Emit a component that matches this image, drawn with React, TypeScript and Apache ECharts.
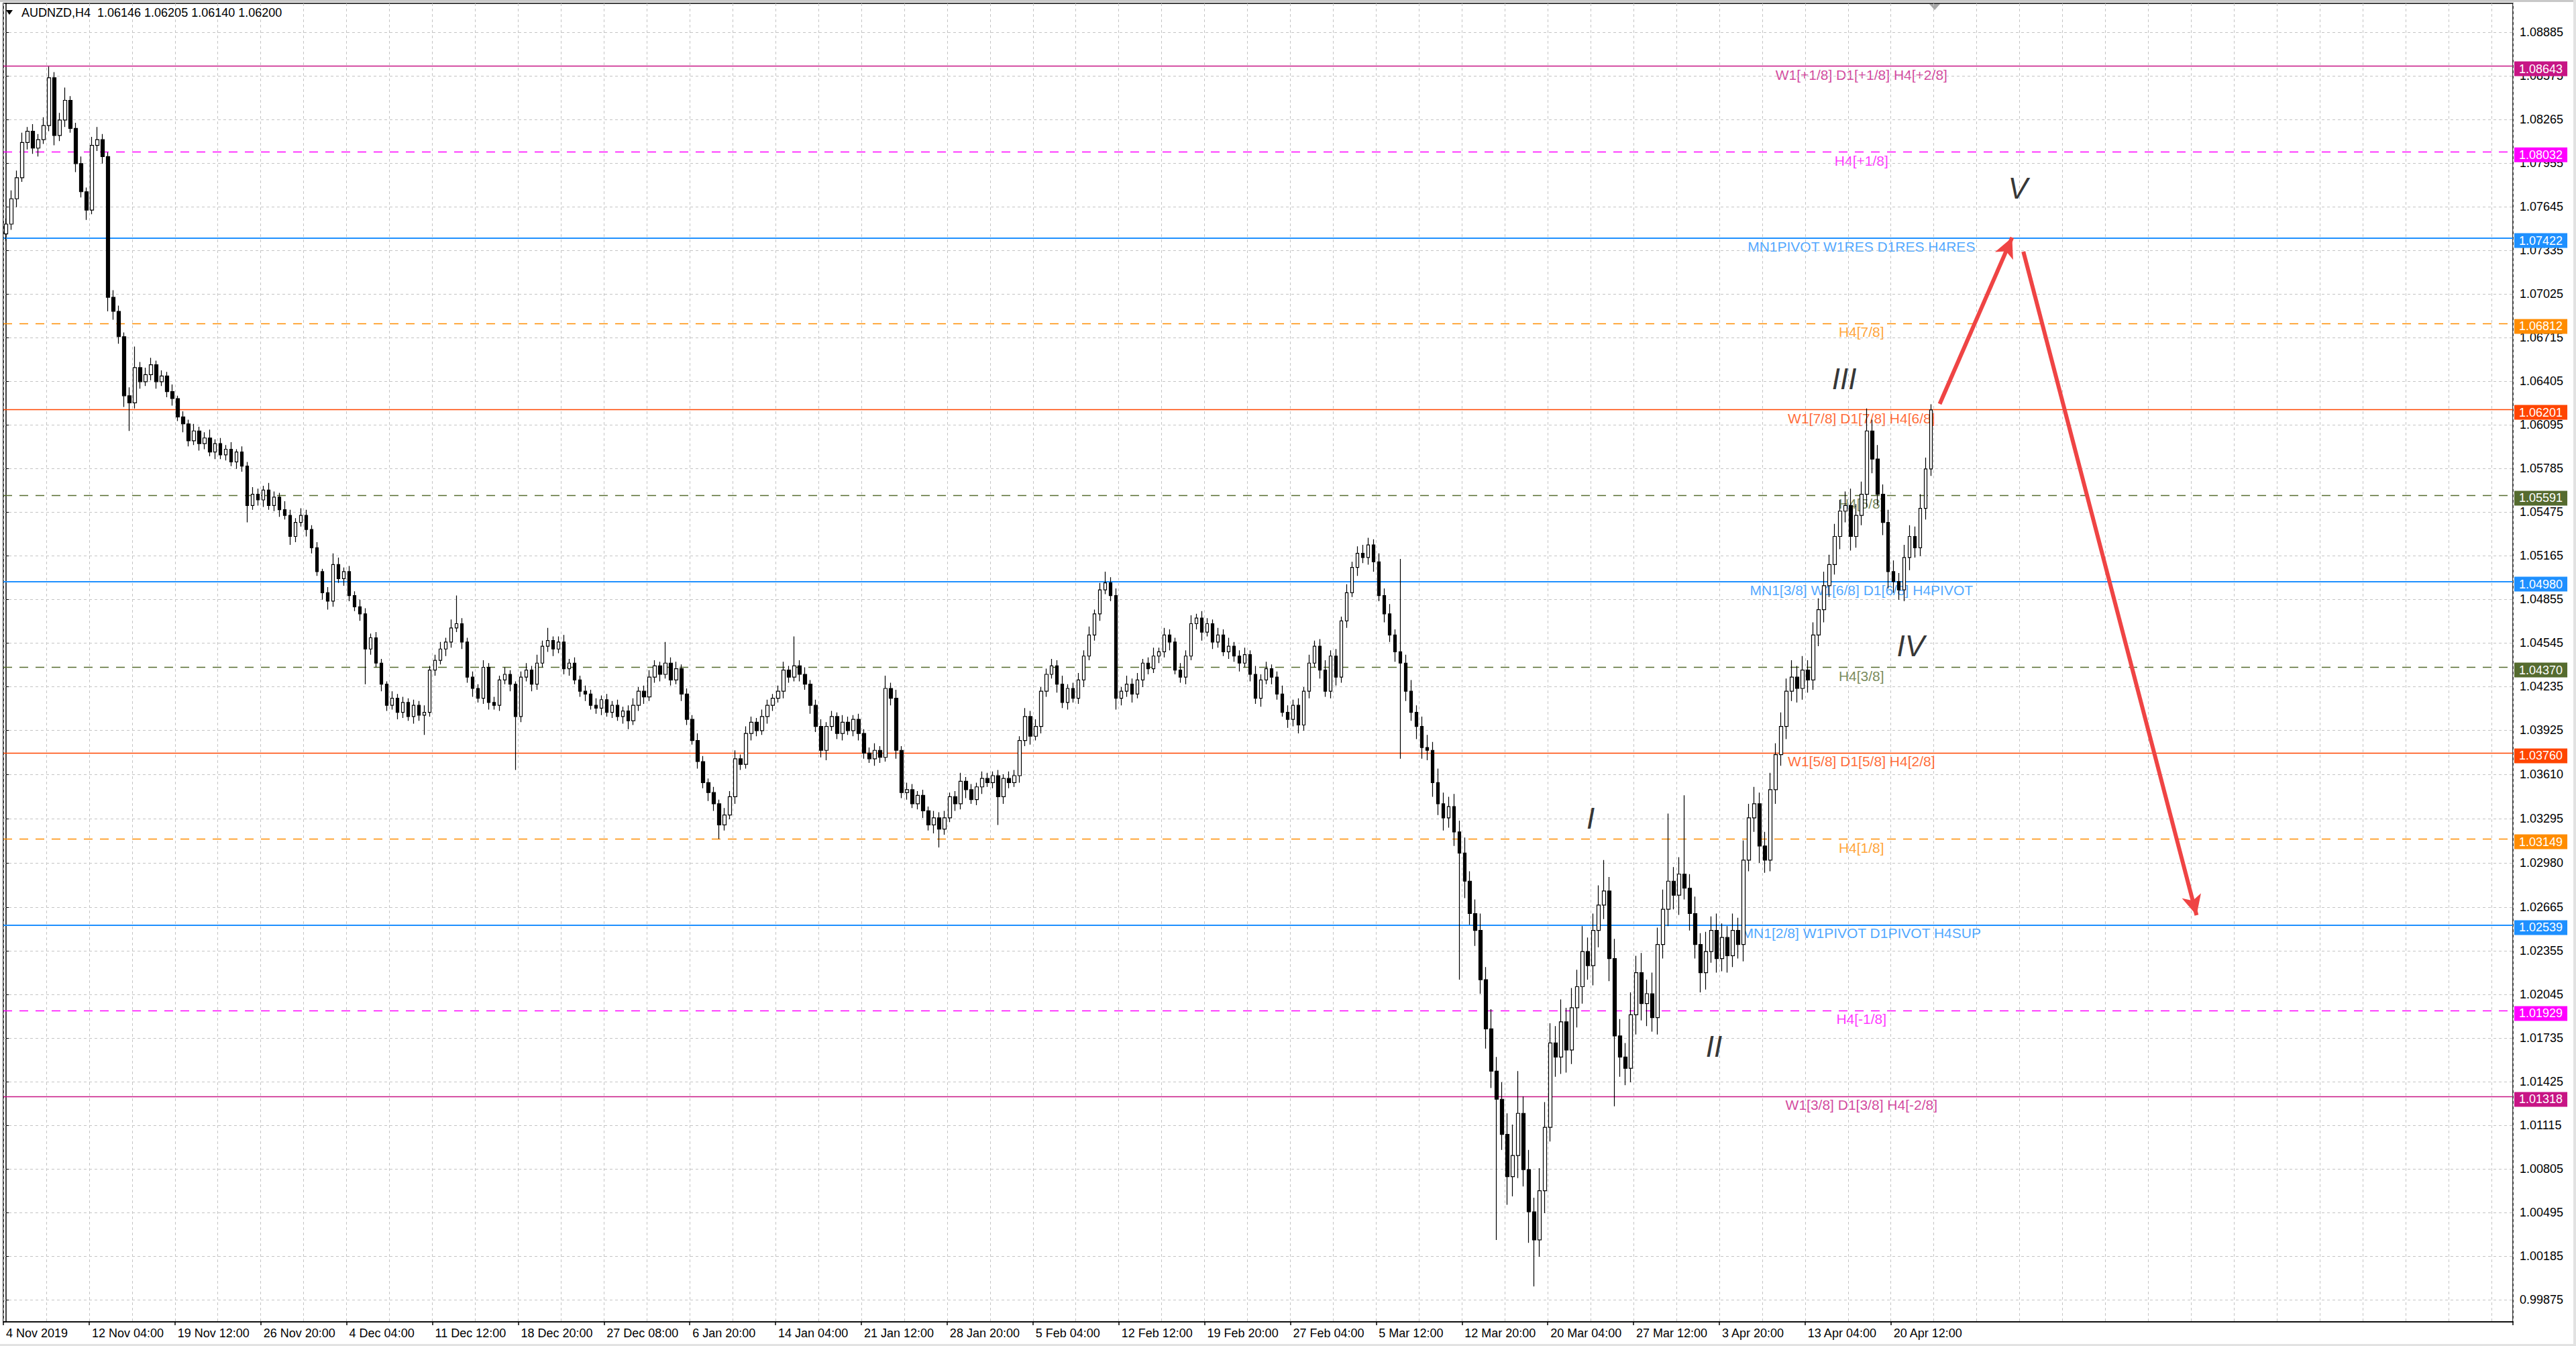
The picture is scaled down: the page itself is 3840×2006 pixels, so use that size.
// App.tsx
import React, { useEffect, useRef } from 'react';
import * as echarts from 'echarts';

// x axis labels, one every 16 candles
const dateLabels = [
  '4 Nov 2019', '12 Nov 04:00', '19 Nov 12:00', '26 Nov 20:00', '4 Dec 04:00', '11 Dec 12:00',
  '18 Dec 20:00', '27 Dec 08:00', '6 Jan 20:00', '14 Jan 04:00', '21 Jan 12:00', '28 Jan 20:00',
  '5 Feb 04:00', '12 Feb 12:00', '19 Feb 20:00', '27 Feb 04:00', '5 Mar 12:00', '12 Mar 20:00',
  '20 Mar 04:00', '27 Mar 12:00', '3 Apr 20:00', '13 Apr 04:00', '20 Apr 12:00',
];

// price ticks as printed on the right scale
const priceTicks = [
  1.08885, 1.08575, 1.08265, 1.07955, 1.07645, 1.07335, 1.07025, 1.06715, 1.06405, 1.06095,
  1.05785, 1.05475, 1.05165, 1.04855, 1.04545, 1.04235, 1.03925, 1.0361, 1.03295, 1.0298,
  1.02665, 1.02355, 1.02045, 1.01735, 1.01425, 1.01115, 1.00805, 1.00495, 1.00185, 0.99875,
];

const firstOpen = 1.0745;

const closes = [
  1.0752, 1.0770, 1.0785, 1.0810, 1.0818, 1.0806, 1.0812, 1.0822, 1.0856, 1.0815,
  1.0826, 1.0840, 1.0820, 1.0795, 1.0775, 1.0762, 1.0808, 1.0812, 1.0800, 1.0700,
  1.0690, 1.0672, 1.0630, 1.0625, 1.0650, 1.0640, 1.0645, 1.0652, 1.0640, 1.0644,
  1.0633, 1.0628, 1.0615, 1.0610, 1.0598, 1.0605, 1.0596, 1.0600, 1.0590, 1.0596,
  1.0588, 1.0592, 1.0583, 1.0590, 1.0580, 1.0552, 1.0560, 1.0556, 1.0563, 1.0552,
  1.0558, 1.0549, 1.0545, 1.0530, 1.0540, 1.0545, 1.0535, 1.0522, 1.0505, 1.0490,
  1.0484, 1.0510, 1.0500, 1.0505, 1.0488, 1.0480, 1.0475, 1.0450, 1.0458, 1.0440,
  1.0425, 1.0410, 1.0415, 1.0405, 1.0412, 1.0402, 1.0410, 1.0403, 1.0405, 1.0435,
  1.0442, 1.0450, 1.0455, 1.0465, 1.0468, 1.0455, 1.0430, 1.0422, 1.0415, 1.0437,
  1.0412, 1.0410, 1.0428, 1.0432, 1.0425, 1.0402, 1.0430, 1.0435, 1.0425, 1.0440,
  1.0452, 1.0456, 1.0450, 1.0455, 1.0436, 1.0440, 1.0428, 1.0420, 1.0418, 1.0410,
  1.0408, 1.0414, 1.0405, 1.0410, 1.0402, 1.0406, 1.0399, 1.0410, 1.0420, 1.0416,
  1.0430, 1.0438, 1.0432, 1.0440, 1.0428, 1.0436, 1.0418, 1.0400, 1.0385, 1.0370,
  1.0355, 1.0348, 1.0340, 1.0325, 1.0332, 1.0345, 1.0372, 1.0368, 1.0390, 1.0398,
  1.0392, 1.0402, 1.0410, 1.0415, 1.0420, 1.0435, 1.0430, 1.0438, 1.0432, 1.0425,
  1.0410, 1.0395, 1.0378, 1.0395, 1.0402, 1.0390, 1.0398, 1.0392, 1.0400, 1.0390,
  1.0376, 1.0372, 1.0378, 1.0373, 1.0422, 1.0415, 1.0378, 1.0348, 1.0350, 1.0340,
  1.0346, 1.0335, 1.0325, 1.0330, 1.0322, 1.0330, 1.0345, 1.0340, 1.0356, 1.0350,
  1.0343, 1.0352, 1.0358, 1.0355, 1.0360, 1.0345, 1.0358, 1.0355, 1.0360, 1.0385,
  1.0402, 1.0388, 1.0395, 1.0420, 1.0432, 1.0438, 1.0425, 1.0412, 1.0422, 1.0415,
  1.0428, 1.0445, 1.0460, 1.0475, 1.0492, 1.0497, 1.0488, 1.0415, 1.0420, 1.0425,
  1.0418, 1.0428, 1.0440, 1.0436, 1.0445, 1.0448, 1.0460, 1.0455, 1.0435, 1.0430,
  1.0445, 1.0468, 1.0472, 1.0462, 1.0468, 1.0455, 1.0460, 1.0448, 1.0452, 1.0445,
  1.0440, 1.0446, 1.0432, 1.0415, 1.0428, 1.0436, 1.0430, 1.0418, 1.0405, 1.0400,
  1.0410, 1.0396, 1.0420, 1.0440, 1.0452, 1.0435, 1.0420, 1.0445, 1.0430, 1.0470,
  1.0490, 1.0508, 1.0518, 1.0515, 1.0524, 1.0512, 1.0488, 1.0475, 1.0460, 1.0448,
  1.0440, 1.0420, 1.0405, 1.0395, 1.0380, 1.0378, 1.0355, 1.0340, 1.0330, 1.0338,
  1.0320, 1.0305, 1.0285, 1.0262, 1.0250, 1.0215, 1.0180, 1.0150, 1.0130, 1.0105,
  1.0075, 1.0090, 1.0120, 1.0080, 1.0050, 1.0030, 1.0065, 1.0110, 1.0170, 1.0160,
  1.0185, 1.0165, 1.0195, 1.0210, 1.0235, 1.0225, 1.0250, 1.0268, 1.0278, 1.0230,
  1.0175, 1.0160, 1.0152, 1.0190, 1.0220, 1.0198, 1.0205, 1.0188, 1.0240, 1.0265,
  1.0285, 1.0275, 1.0290, 1.0280, 1.0262, 1.0240, 1.0220, 1.0235, 1.0250, 1.0230,
  1.0245, 1.0232, 1.0250, 1.0240, 1.0300, 1.0330, 1.0340, 1.0310, 1.0300, 1.0350,
  1.0375, 1.0395, 1.0420, 1.0430, 1.0422, 1.0435, 1.0428, 1.0460, 1.0478, 1.0495,
  1.0510, 1.0530, 1.0548, 1.0552, 1.0530, 1.0545, 1.0560, 1.0605, 1.0585, 1.0560,
  1.0540, 1.0505, 1.0498, 1.0492, 1.0515, 1.0530, 1.0522, 1.0550, 1.0578, 1.0620,
];

// wick lengths above / below the body, in pips
const upWicks = [
  4, 6, 5, 7, 3, 5, 4, 6, 8, 4, 5, 9, 3, 4, 5, 3, 6, 9, 4, 3,
  5, 4, 3, 6, 15, 4, 5, 5, 3, 4, 3, 5, 2, 4, 3, 5, 3, 4, 6, 3,
  4, 3, 5, 2, 4, 3, 5, 4, 3, 5, 4, 3, 6, 4, 3, 5, 4, 3, 4, 2,
  4, 8, 5, 3, 4, 3, 5, 4, 3, 4, 3, 2, 5, 3, 4, 3, 4, 3, 5, 3,
  4, 5, 3, 6, 20, 4, 3, 4, 3, 5, 3, 4, 3, 5, 3, 2, 4, 5, 3, 6,
  4, 9, 3, 4, 5, 3, 4, 3, 4, 3, 5, 3, 4, 3, 4, 3, 4, 5, 3, 4,
  5, 4, 3, 15, 4, 5, 3, 4, 3, 5, 4, 3, 4, 3, 5, 4, 6, 3, 5, 4,
  3, 5, 4, 3, 4, 6, 3, 21, 4, 5, 3, 4, 5, 3, 4, 3, 5, 4, 3, 4,
  3, 4, 5, 3, 9, 4, 6, 3, 5, 4, 3, 4, 3, 5, 4, 5, 3, 4, 6, 3,
  4, 3, 5, 4, 3, 4, 3, 5, 4, 3, 6, 4, 5, 3, 4, 5, 4, 6, 3, 4,
  5, 4, 6, 3, 5, 8, 4, 5, 3, 6, 4, 5, 3, 4, 6, 3, 5, 4, 3, 5,
  4, 6, 3, 5, 4, 3, 5, 4, 6, 3, 4, 5, 3, 6, 4, 5, 3, 4, 6, 5,
  4, 5, 3, 6, 4, 5, 7, 4, 5, 3, 6, 4, 5, 6, 5, 4, 6, 5, 7, 4,
  66, 6, 8, 5, 7, 9, 6, 10, 8, 7, 9, 8, 11, 7, 10, 12, 9, 14, 10, 12,
  15, 22, 30, 12, 14, 10, 16, 18, 14, 12, 16, 10, 14, 12, 18, 10, 12, 14, 22, 10,
  14, 12, 10, 16, 12, 14, 10, 15, 12, 14, 48, 10, 12, 56, 10, 12, 8, 14, 10, 12,
  10, 8, 12, 9, 14, 10, 12, 8, 10, 12, 8, 10, 9, 12, 8, 10, 7, 9, 8, 10,
  7, 9, 8, 10, 12, 8, 9, 16, 8, 10, 7, 9, 8, 6, 9, 8, 7, 10, 8, 4,
];

const downWicks = [
  5, 4, 6, 3, 5, 4, 6, 3, 4, 7, 4, 5, 3, 6, 4, 7, 3, 4, 5, 10,
  6, 5, 8, 20, 4, 5, 3, 4, 5, 3, 4, 5, 3, 6, 4, 3, 5, 4, 3, 5,
  3, 4, 3, 5, 4, 12, 3, 4, 5, 3, 4, 5, 3, 6, 4, 3, 5, 4, 3, 5,
  6, 4, 3, 5, 4, 3, 5, 25, 4, 3, 5, 4, 3, 5, 4, 3, 5, 4, 14, 3,
  4, 3, 5, 4, 3, 5, 4, 6, 3, 4, 5, 3, 4, 3, 5, 38, 4, 3, 5, 4,
  3, 4, 5, 3, 4, 5, 3, 4, 5, 3, 4, 5, 3, 4, 3, 5, 6, 3, 4, 5,
  3, 4, 5, 3, 4, 3, 5, 4, 3, 5, 4, 6, 5, 10, 4, 3, 5, 4, 3, 5,
  4, 3, 5, 4, 3, 5, 4, 3, 5, 4, 6, 4, 5, 7, 3, 4, 5, 3, 4, 5,
  4, 3, 5, 4, 3, 5, 6, 4, 5, 3, 4, 5, 4, 6, 13, 4, 3, 5, 4, 6,
  3, 4, 5, 3, 4, 20, 5, 4, 3, 5, 4, 6, 3, 5, 4, 3, 6, 4, 5, 3,
  4, 5, 3, 4, 5, 3, 4, 8, 5, 4, 6, 3, 5, 4, 3, 5, 4, 6, 3, 4,
  5, 3, 4, 6, 3, 5, 4, 3, 5, 4, 6, 3, 5, 4, 6, 3, 5, 4, 3, 6,
  5, 6, 4, 5, 3, 6, 4, 5, 6, 4, 5, 3, 6, 4, 5, 7, 4, 6, 5, 7,
  68, 7, 6, 9, 8, 7, 10, 8, 9, 7, 10, 90, 12, 8, 11, 10, 14, 12, 100, 11,
  20, 14, 16, 12, 22, 33, 12, 16, 10, 14, 12, 16, 10, 14, 12, 10, 14, 12, 10, 16,
  50, 14, 12, 10, 14, 12, 16, 10, 12, 10, 12, 10, 14, 8, 12, 10, 14, 12, 8, 10,
  9, 12, 8, 10, 12, 8, 10, 12, 9, 8, 10, 8, 9, 7, 10, 8, 9, 7, 8, 9,
  8, 7, 9, 8, 10, 8, 7, 9, 10, 8, 9, 12, 8, 7, 8, 9, 7, 6, 8, 5,
];

// Murrey / pivot levels
const levelPrices = [
  1.08643, 1.08032, 1.07422, 1.06812, 1.06201, 1.05591, 1.0498,
  1.0437, 1.0376, 1.03149, 1.02539, 1.01929, 1.01318,
];
const levelNames = [
  'W1[+1/8] D1[+1/8] H4[+2/8]', 'H4[+1/8]', 'MN1PIVOT W1RES D1RES H4RES', 'H4[7/8]',
  'W1[7/8] D1[7/8] H4[6/8]', 'H4[5/8]', 'MN1[3/8] W1[6/8] D1[6/8] H4PIVOT', 'H4[3/8]',
  'W1[5/8] D1[5/8] H4[2/8]', 'H4[1/8]', 'MN1[2/8] W1PIVOT D1PIVOT H4SUP', 'H4[-1/8]',
  'W1[3/8] D1[3/8] H4[-2/8]',
];
const levelColors = [
  '#C71585', '#FF00FF', '#1E90FF', '#FF8C00', '#FF4500', '#556B2F', '#1E90FF',
  '#556B2F', '#FF4500', '#FF8C00', '#1E90FF', '#FF00FF', '#C71585',
];
const levelDashed = [false, true, false, true, false, true, false, true, false, true, false, true, false];

// elliott wave marks: candle slot and price
const waveNames = ['I', 'II', 'III', 'IV', 'V'];
const waveSlots = [295.5, 318.5, 342.8, 355.2, 375.2];
const wavePrices = [1.03295, 1.01674, 1.06423, 1.04525, 1.07773];

// forecast arrows
const arrowFrom = [[360.6, 1.06242], [376.2, 1.07325]];
const arrowTo = [[374.1, 1.07425], [408.5, 1.02608]];

const SLOTS = 468;
const LEVEL_LABEL_SLOT = 346;

const App: React.FC = () => {
  const chartRef = useRef<HTMLDivElement>(null);

  useEffect(() => {
    if (!chartRef.current) return;
    const chart = echarts.init(chartRef.current, undefined, { renderer: 'svg' });

    const candles = closes.map((c, i) => {
      const o = i === 0 ? firstOpen : closes[i - 1];
      const hi = Math.max(o, c) + upWicks[i] / 10000;
      const lo = Math.min(o, c) - downWicks[i] / 10000;
      return [o, c, lo, hi];
    });

    const categories = Array.from({ length: SLOTS }, (_, i) =>
      i % 16 === 0 && dateLabels[i / 16] ? dateLabels[i / 16] : ''
    );
    const hasLabel = (_: number, v: string) => v !== '';
    const font = 'Liberation Sans, Arial, sans-serif';
    const xLeft = -0.5;
    const xRight = SLOTS - 0.5;

    const option: any = {
      animation: false,
      backgroundColor: '#ffffff',
      title: {
        text: 'AUDNZD,H4  1.06146 1.06205 1.06140 1.06200',
        left: 32,
        top: 10,
        padding: 0,
        textStyle: { fontSize: 18, fontWeight: 'normal', color: '#000', fontFamily: font },
      },
      grid: {
        left: 5,
        top: 5,
        width: 3741,
        height: 1965,
        show: true,
        borderColor: '#000',
        borderWidth: 1.5,
        backgroundColor: 'transparent',
      },
      xAxis: [
        {
          type: 'category',
          data: categories,
          boundaryGap: true,
          axisLine: { show: true, lineStyle: { color: '#000', width: 1.5 } },
          axisTick: { show: true, interval: hasLabel, length: 5, lineStyle: { color: '#000', width: 1.5 } },
          axisLabel: {
            interval: hasLabel,
            align: 'left',
            fontSize: 18,
            color: '#000',
            fontFamily: font,
            margin: 8,
          },
          splitLine: { show: true, interval: 7, lineStyle: { color: '#c4c4c4', type: [4, 4], width: 1 } },
        },
        { type: 'value', min: xLeft, max: xRight, show: false },
      ],
      yAxis: {
        type: 'value',
        position: 'right',
        min: 0.99718,
        max: 1.09089,
        scale: true,
        axisLine: { show: true, lineStyle: { color: '#000', width: 1.5 } },
        axisTick: { show: true, customValues: priceTicks, length: 5, lineStyle: { color: '#000' } },
        axisLabel: {
          customValues: priceTicks,
          formatter: (v: number) => v.toFixed(5),
          fontSize: 18,
          color: '#000',
          fontFamily: font,
          margin: 10,
        },
        splitLine: { show: false },
      },
      graphic: [
        { type: 'rect', silent: true, shape: { x: 0, y: 0, width: 3840, height: 3 }, style: { fill: '#c8c8c8' } },
        { type: 'rect', silent: true, shape: { x: 0, y: 2003, width: 3840, height: 3 }, style: { fill: '#e2e2e2' } },
        { type: 'rect', silent: true, shape: { x: 3836, y: 0, width: 4, height: 2006 }, style: { fill: '#e2e2e2' } },
        { type: 'polygon', silent: true, shape: { points: [[9, 15], [19, 15], [14, 22]] }, style: { fill: '#000' } },
        { type: 'polygon', silent: true, shape: { points: [[2876, 6], [2892, 6], [2884, 15]] }, style: { fill: '#a8a8a8' } },
      ],
      series: [
        {
          // horizontal grid at the printed ticks
          type: 'line',
          xAxisIndex: 1,
          data: [],
          silent: true,
          z: 1,
          markLine: {
            silent: true,
            symbol: ['none', 'none'],
            label: { show: false },
            lineStyle: { color: '#c4c4c4', type: [4, 4], width: 1 },
            data: priceTicks.map((v) => [{ coord: [xLeft, v] }, { coord: [xRight, v] }]),
          },
        },
        {
          // level lines with price tags
          type: 'line',
          xAxisIndex: 1,
          data: [],
          silent: true,
          z: 3,
          markLine: {
            silent: true,
            symbol: ['none', 'none'],
            data: levelPrices.map((p, i) => [
              {
                coord: [xLeft, p],
                lineStyle: {
                  color: levelColors[i],
                  width: levelColors[i] === '#1E90FF' ? 2.2 : 1.3,
                  type: levelDashed[i] ? [13, 11] : 'solid',
                },
                label: {
                  show: true,
                  position: 'end',
                  formatter: p.toFixed(5),
                  color: '#fff',
                  backgroundColor: levelColors[i],
                  fontSize: 18,
                  fontFamily: font,
                  lineHeight: 19,
                  padding: [2, 7, 1, 7],
                  distance: 2,
                  offset: [0, 4],
                },
              },
              { coord: [xRight, p] },
            ]),
          },
        },
        {
          // level names
          type: 'scatter',
          xAxisIndex: 1,
          silent: true,
          z: 4,
          symbolSize: 0,
          itemStyle: { color: 'transparent' },
          data: levelPrices.map((p, i) => ({
            value: [LEVEL_LABEL_SLOT, p],
            name: levelNames[i],
            label: { color: levelColors[i] },
          })),
          label: {
            show: true,
            position: 'bottom',
            distance: 2,
            formatter: '{b}',
            fontSize: 21,
            fontFamily: font,
          },
        },
        {
          type: 'candlestick',
          name: 'AUDNZD',
          xAxisIndex: 0,
          yAxisIndex: 0,
          data: candles,
          barWidth: 5,
          z: 5,
          itemStyle: {
            color: '#ffffff',
            color0: '#000000',
            borderColor: '#000000',
            borderColor0: '#000000',
            borderWidth: 1.2,
          },
        },
        {
          // wave count
          type: 'scatter',
          xAxisIndex: 1,
          silent: true,
          z: 6,
          symbolSize: 0,
          itemStyle: { color: 'transparent' },
          data: waveNames.map((n, i) => ({ value: [waveSlots[i], wavePrices[i]], name: n })),
          label: {
            show: true,
            position: 'inside',
            formatter: '{b}',
            fontSize: 44,
            fontStyle: 'italic',
            color: '#000',
            fontFamily: font,
          },
        },
        {
          // forecast arrows
          type: 'line',
          xAxisIndex: 1,
          data: [],
          silent: true,
          z: 7,
          markLine: {
            silent: true,
            symbol: ['none', 'arrow'],
            symbolSize: [22, 30],
            label: { show: false },
            lineStyle: { color: '#EF4444', width: 6, type: 'solid' },
            data: arrowFrom.map((f, i) => [{ coord: f }, { coord: arrowTo[i] }]),
          },
        },
      ],
    };

    chart.setOption(option);

    const handleResize = () => chart.resize();
    window.addEventListener('resize', handleResize);

    return () => {
      window.removeEventListener('resize', handleResize);
      chart.dispose();
    };
  }, []);

  return (
    <div
      ref={chartRef}
      style={{ position: 'absolute', left: 0, top: 0, width: '3840px', height: '2006px' }}
    ></div>
  );
};

export default App;
